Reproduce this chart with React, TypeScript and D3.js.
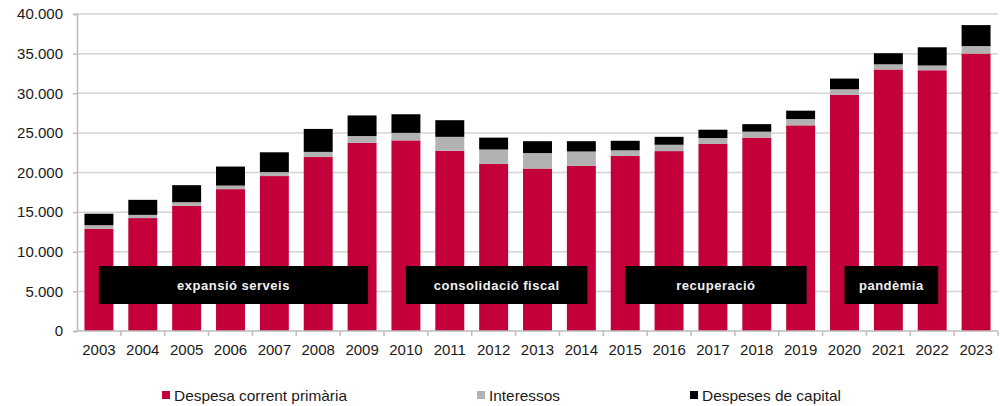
import { useEffect, useRef } from "react";
import * as d3 from "d3";

// values (milions d'euros)
const years = [
  "2003", "2004", "2005", "2006", "2007", "2008", "2009", "2010", "2011", "2012", "2013",
  "2014", "2015", "2016", "2017", "2018", "2019", "2020", "2021", "2022", "2023",
];
const despesaCorrent = [
  12900, 14250, 15800, 17900, 19550, 21950, 23750, 24050, 22750, 21100, 20500,
  20850, 22100, 22700, 23600, 24400, 25950, 29800, 33000, 32900, 35000,
];
const interessos = [
  450, 400, 450, 450, 500, 650, 850, 950, 1750, 1800, 1950,
  1800, 700, 800, 750, 750, 800, 700, 650, 600, 950,
];
const despesesCapital = [
  1450, 1900, 2150, 2400, 2500, 2900, 2600, 2350, 2100, 1500, 1500,
  1300, 1200, 1000, 1050, 950, 1050, 1350, 1400, 2300, 2650,
];
const seriesNames = ["Despesa corrent primària", "Interessos", "Despeses de capital"];
const seriesColors = ["#c3003a", "#b2b2b2", "#000000"];
const yTicks = [0, 5000, 10000, 15000, 20000, 25000, 30000, 35000, 40000];

// periods shown as black boxes over the bars
const periodLabels = ["expansió serveis", "consolidació fiscal", "recuperació", "pandèmia"];
const periodStart = ["2003", "2010", "2015", "2020"];
const periodEnd = ["2009", "2014", "2019", "2022"];

export default function App() {
  const chartRef = useRef<HTMLDivElement>(null);
  const width = 1000;
  const height = 406;
  const margin = { top: 14, right: 2, bottom: 75, left: 77 };

  useEffect(() => {
    d3.select(chartRef.current).select("svg").remove();

    const svg = d3
      .select(chartRef.current)
      .append("svg")
      .attr("width", width)
      .attr("height", height)
      .style("display", "block")
      .style("font-family", "'Liberation Sans', Arial, sans-serif");

    const x = d3
      .scaleBand()
      .domain(years)
      .range([margin.left, width - margin.right])
      .paddingInner(0.34)
      .paddingOuter(0.17);

    const y = d3
      .scaleLinear()
      .domain([0, 40000])
      .range([height - margin.bottom, margin.top]);

    const fmt = (v: number) => d3.format(",")(v).replace(/,/g, ".");

    // gridlines
    svg
      .append("g")
      .selectAll("line")
      .data(yTicks.filter((t) => t > 0))
      .enter()
      .append("line")
      .attr("x1", margin.left)
      .attr("x2", width - margin.right)
      .attr("y1", (d) => y(d))
      .attr("y2", (d) => y(d))
      .attr("stroke", "#d4d4d4")
      .attr("stroke-width", 1.5);

    // stacked bars
    const rows = years.map((yr, i) => ({
      year: yr,
      a: despesaCorrent[i],
      b: interessos[i],
      c: despesesCapital[i],
    }));
    const stack = d3.stack<any>().keys(["a", "b", "c"]);
    const layers = stack(rows);

    svg
      .append("g")
      .selectAll("g")
      .data(layers)
      .enter()
      .append("g")
      .attr("fill", (_d, i) => seriesColors[i])
      .selectAll("rect")
      .data((d) => d)
      .enter()
      .append("rect")
      .attr("x", (d) => x(d.data.year) as number)
      .attr("width", x.bandwidth())
      .attr("y", (d) => y(d[1]))
      .attr("height", (d) => y(d[0]) - y(d[1]));

    // y axis
    const yAxis = svg
      .append("g")
      .attr("transform", `translate(${margin.left},0)`)
      .call(
        d3
          .axisLeft(y)
          .tickValues(yTicks)
          .tickSize(4)
          .tickPadding(10)
          .tickFormat((d) => fmt(d as number))
      );
    yAxis.select(".domain").attr("stroke", "#bdbdbd").attr("stroke-width", 1.5);
    yAxis.selectAll(".tick line").attr("stroke", "#bdbdbd").attr("stroke-width", 1.5);
    yAxis
      .selectAll(".tick text")
      .attr("fill", "#1a1a1a")
      .style("font-size", "15px")
      .style("font-family", "'Liberation Sans', Arial, sans-serif");

    // x axis
    const xAxis = svg
      .append("g")
      .attr("transform", `translate(0,${y(0)})`);
    xAxis
      .append("line")
      .attr("x1", margin.left)
      .attr("x2", width - margin.right)
      .attr("stroke", "#bdbdbd")
      .attr("stroke-width", 1.5);
    const step = x.step();
    xAxis
      .selectAll(".sep")
      .data(years)
      .enter()
      .append("line")
      .attr("class", "sep")
      .attr("x1", (d) => (x(d) as number) + x.bandwidth() / 2 + step / 2)
      .attr("x2", (d) => (x(d) as number) + x.bandwidth() / 2 + step / 2)
      .attr("y1", 0)
      .attr("y2", 5)
      .attr("stroke", "#bdbdbd")
      .attr("stroke-width", 1.5);
    xAxis
      .selectAll("text")
      .data(years)
      .enter()
      .append("text")
      .attr("x", (d) => (x(d) as number) + x.bandwidth() / 2)
      .attr("y", 24)
      .attr("text-anchor", "middle")
      .attr("fill", "#1a1a1a")
      .style("font-size", "15px")
      .text((d) => d);

    // period boxes
    const boxTop = 266;
    const boxH = 38;
    const boxes = svg.append("g");
    periodLabels.forEach((label, i) => {
      const x0 = (x(periodStart[i]) as number) + x.bandwidth() / 2;
      const x1 = (x(periodEnd[i]) as number) + x.bandwidth() / 2 + 6;
      boxes
        .append("rect")
        .attr("x", x0)
        .attr("y", boxTop)
        .attr("width", x1 - x0)
        .attr("height", boxH)
        .attr("fill", "#000");
      boxes
        .append("text")
        .attr("x", (x0 + x1) / 2)
        .attr("y", boxTop + boxH / 2 + 4.5)
        .attr("text-anchor", "middle")
        .attr("fill", "#f2f2f2")
        .style("font-size", "13px")
        .style("font-weight", "bold")
        .style("letter-spacing", "0.5px")
        .text(label);
    });

    // legend
    const legendX = [162, 477, 690];
    const legendW = [173, 71, 139];
    const legend = svg
      .append("g")
      .selectAll("g")
      .data(seriesNames)
      .enter()
      .append("g")
      .attr("transform", (_d, i) => `translate(${legendX[i]},395)`);
    legend
      .append("rect")
      .attr("x", 0)
      .attr("y", -4)
      .attr("width", 8)
      .attr("height", 8)
      .attr("fill", (_d, i) => seriesColors[i]);
    legend
      .append("text")
      .attr("x", 12)
      .attr("y", 5.5)
      .attr("fill", "#1a1a1a")
      .style("font-size", "15px")
      .attr("textLength", (_d, i) => legendW[i])
      .attr("lengthAdjust", "spacingAndGlyphs")
      .text((d) => d);
  }, []);

  return (
    <div
      ref={chartRef}
      className="stackedBarChart"
      style={{ position: "absolute", left: 0, top: 0, width, height, background: "#fff" }}
    />
  );
}
